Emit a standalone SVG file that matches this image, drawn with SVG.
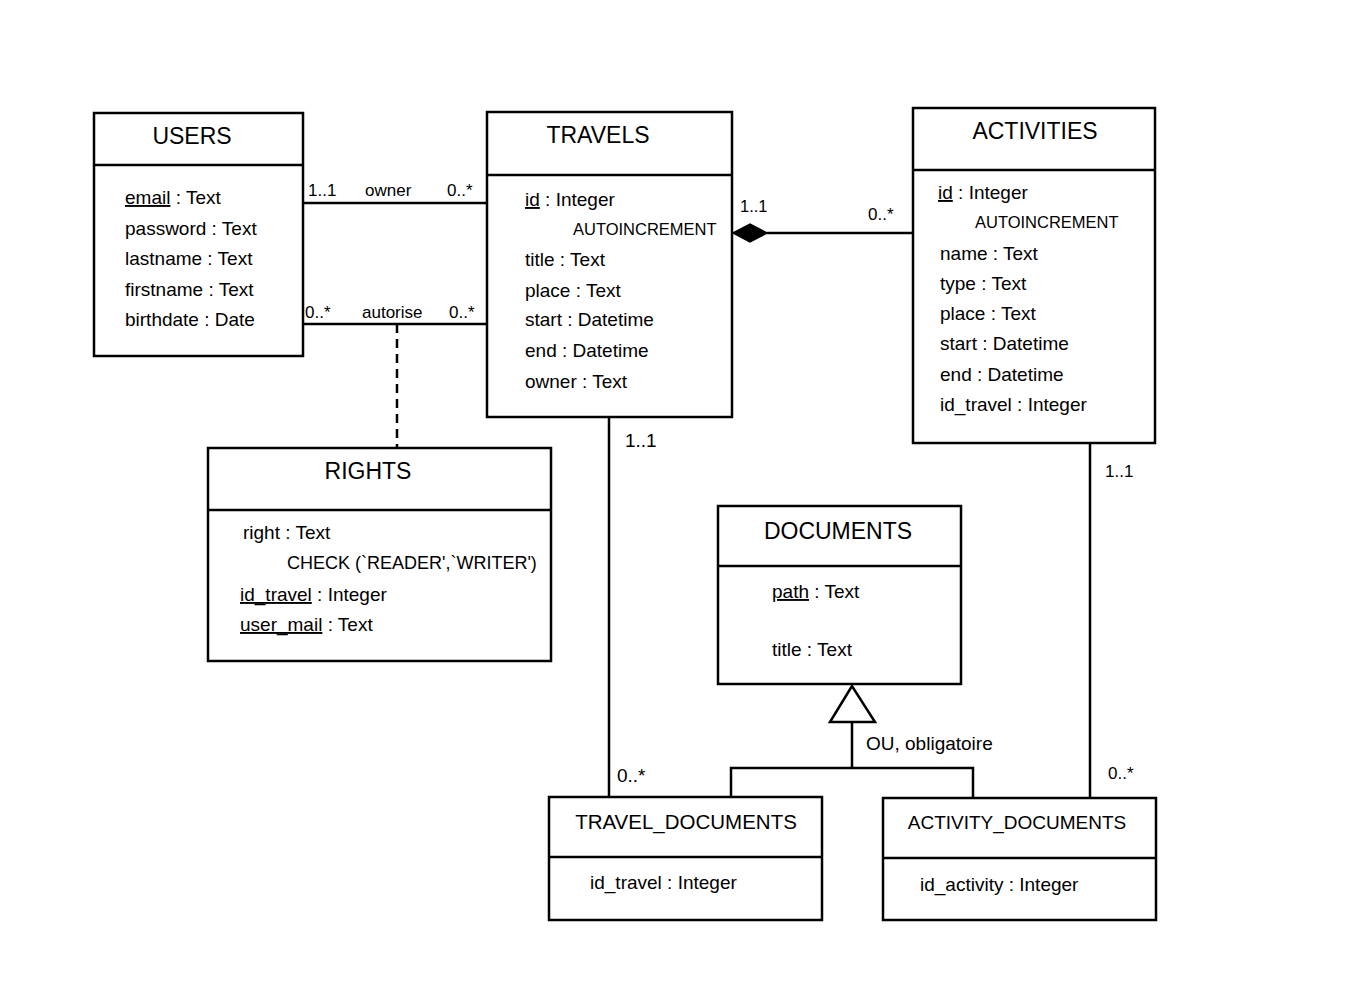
<svg xmlns="http://www.w3.org/2000/svg" width="1345" height="1000" viewBox="0 0 1345 1000">
<style>
.box{fill:#fff;stroke:#000;stroke-width:2.5}
.div{stroke:#000;stroke-width:2.5}
.ln{stroke:#000;stroke-width:2.5;fill:none}
.t{font-family:"Liberation Sans",Arial,sans-serif;font-size:23px;fill:#000;text-anchor:middle}
.ts{font-family:"Liberation Sans",Arial,sans-serif;font-size:19px;fill:#000;text-anchor:middle}
.a{font-family:"Liberation Sans",Arial,sans-serif;font-size:19px;fill:#000}
.k{font-family:"Liberation Sans",Arial,sans-serif;font-size:16.5px;fill:#000}
.l{font-family:"Liberation Sans",Arial,sans-serif;font-size:17px;fill:#000}
.u{text-decoration:underline}
</style>
<rect width="1345" height="1000" fill="#fff"/>
<g id="connectors">
<line class="ln" x1="303" y1="203" x2="487" y2="203"/>
<line class="ln" x1="303" y1="324" x2="487" y2="324"/>
<line class="ln" x1="397" y1="324" x2="397" y2="448" stroke-dasharray="9,6"/>
<line class="ln" x1="767" y1="233" x2="913" y2="233"/>
<polygon points="733,233 750,224 767,233 750,242" fill="#000" stroke="#000" stroke-width="1.5"/>
<line class="ln" x1="609" y1="417" x2="609" y2="797"/>
<line class="ln" x1="1090" y1="443" x2="1090" y2="798"/>
<polygon points="852,686 830,722 875,722" fill="#fff" stroke="#000" stroke-width="2.5"/>
<polyline class="ln" points="852,722 852,768"/>
<polyline class="ln" points="731,797 731,768 973,768 973,798"/>
<text class="l" x="308" y="196">1..1</text>
<text class="l" x="365" y="196">owner</text>
<text class="l" x="447" y="196">0..*</text>
<text class="l" x="305" y="318">0..*</text>
<text class="l" x="362" y="318">autorise</text>
<text class="l" x="449" y="318">0..*</text>
<text class="k" x="740" y="212">1..1</text>
<text class="l" x="868" y="220">0..*</text>
<text class="a" x="625" y="447">1..1</text>
<text class="a" x="617" y="782">0..*</text>
<text class="l" x="1105" y="477">1..1</text>
<text class="l" x="1108" y="779">0..*</text>
<text class="a" x="866" y="750">OU, obligatoire</text>
</g>
<g id="users">
<rect class="box" x="94" y="113" width="209" height="243"/>
<line class="div" x1="94" y1="165" x2="303" y2="165"/>
<text class="t" x="192" y="144">USERS</text>
<text class="a" x="125" y="204"><tspan class="u">email</tspan> : Text</text>
<text class="a" x="125" y="235">password : Text</text>
<text class="a" x="125" y="265">lastname : Text</text>
<text class="a" x="125" y="296">firstname : Text</text>
<text class="a" x="125" y="326">birthdate : Date</text>
</g>
<g id="travels">
<rect class="box" x="487" y="112" width="245" height="305"/>
<line class="div" x1="487" y1="175" x2="732" y2="175"/>
<text class="t" x="598" y="143">TRAVELS</text>
<text class="a" x="525" y="206"><tspan class="u">id</tspan> : Integer</text>
<text class="k" x="573" y="235">AUTOINCREMENT</text>
<text class="a" x="525" y="266">title : Text</text>
<text class="a" x="525" y="297">place : Text</text>
<text class="a" x="525" y="326">start : Datetime</text>
<text class="a" x="525" y="357">end : Datetime</text>
<text class="a" x="525" y="388">owner : Text</text>
</g>
<g id="activities">
<rect class="box" x="913" y="108" width="242" height="335"/>
<line class="div" x1="913" y1="170" x2="1155" y2="170"/>
<text class="t" x="1035" y="139">ACTIVITIES</text>
<text class="a" x="938" y="199"><tspan class="u">id</tspan> : Integer</text>
<text class="k" x="975" y="228">AUTOINCREMENT</text>
<text class="a" x="940" y="260">name : Text</text>
<text class="a" x="940" y="290">type : Text</text>
<text class="a" x="940" y="320">place : Text</text>
<text class="a" x="940" y="350">start : Datetime</text>
<text class="a" x="940" y="381">end : Datetime</text>
<text class="a" x="940" y="411">id_travel : Integer</text>
</g>
<g id="rights">
<rect class="box" x="208" y="448" width="343" height="213"/>
<line class="div" x1="208" y1="510" x2="551" y2="510"/>
<text class="t" x="368" y="479">RIGHTS</text>
<text class="a" x="243" y="539">right : Text</text>
<text class="a" x="287" y="569" style="font-size:18px">CHECK (`READER',`WRITER')</text>
<text class="a" x="240" y="601"><tspan class="u">id_travel</tspan> : Integer</text>
<text class="a" x="240" y="631"><tspan class="u">user_mail</tspan> : Text</text>
</g>
<g id="documents">
<rect class="box" x="718" y="506" width="243" height="178"/>
<line class="div" x1="718" y1="566" x2="961" y2="566"/>
<text class="t" x="838" y="539">DOCUMENTS</text>
<text class="a" x="772" y="598"><tspan class="u">path</tspan> : Text</text>
<text class="a" x="772" y="656">title : Text</text>
</g>
<g id="travel_documents">
<rect class="box" x="549" y="797" width="273" height="123"/>
<line class="div" x1="549" y1="857" x2="822" y2="857"/>
<text class="ts" x="686" y="829" style="font-size:20.5px">TRAVEL_DOCUMENTS</text>
<text class="a" x="590" y="889">id_travel : Integer</text>
</g>
<g id="activity_documents">
<rect class="box" x="883" y="798" width="273" height="122"/>
<line class="div" x1="883" y1="858" x2="1156" y2="858"/>
<text class="ts" x="1017" y="829">ACTIVITY_DOCUMENTS</text>
<text class="a" x="920" y="891">id_activity : Integer</text>
</g>
</svg>
